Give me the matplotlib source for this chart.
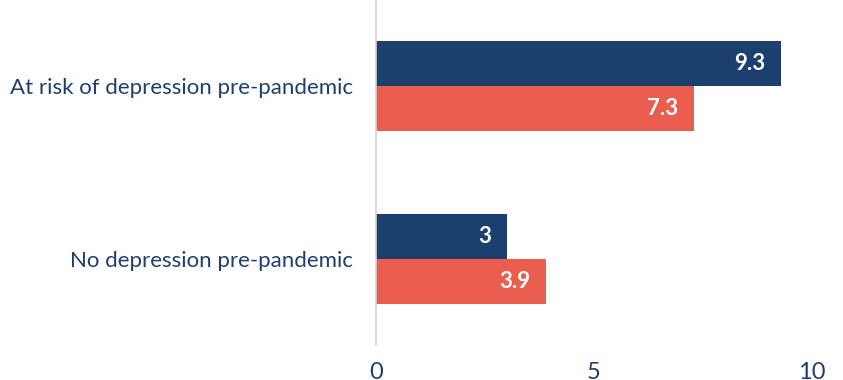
import numpy as np
import matplotlib.pyplot as plt

categories = ['At risk of depression pre-pandemic', 'No depression pre-pandemic']
series_a = [9.3, 3.0]
series_b = [7.3, 3.9]
xticks = [0, 5, 10]

navy = '#1B3F6F'
coral = '#EB5E4F'
text_col = '#1F3F6E'

plt.rcParams['font.family'] = ['Lato', 'DejaVu Sans']

fig = plt.figure(figsize=(8.43, 3.8), dpi=100)
ax = fig.add_axes([0.446, 0.092, 0.517, 0.908])

y = np.arange(len(categories))
h = 0.26
bars_a = ax.barh(y - h / 2, series_a, height=h, color=navy)
bars_b = ax.barh(y + h / 2, series_b, height=h, color=coral)

for bars, vals in [(bars_a, series_a), (bars_b, series_b)]:
    for b, v in zip(bars, vals):
        lbl = f'{v:g}'
        ax.annotate(lbl, (v, b.get_y() + b.get_height() / 2),
                    xytext=(-11.5, 0), textcoords='offset points',
                    ha='right', va='center', color='white',
                    fontsize=16, fontweight='bold')

ax.set_xlim(0, 10)
ax.set_ylim(1.5, -0.5)
ax.set_xticks(xticks)
ax.set_yticks(y)
ax.set_yticklabels(categories)
ax.tick_params(axis='x', length=0, pad=12.5, labelsize=17, labelcolor=text_col)
ax.tick_params(axis='y', length=0, pad=16.5, labelsize=16, labelcolor=text_col)

for s in ['top', 'right', 'bottom']:
    ax.spines[s].set_visible(False)
ax.spines['left'].set_color('#D3D3D3')
ax.spines['left'].set_linewidth(1.2)

fig.savefig('out.png', dpi=100)
